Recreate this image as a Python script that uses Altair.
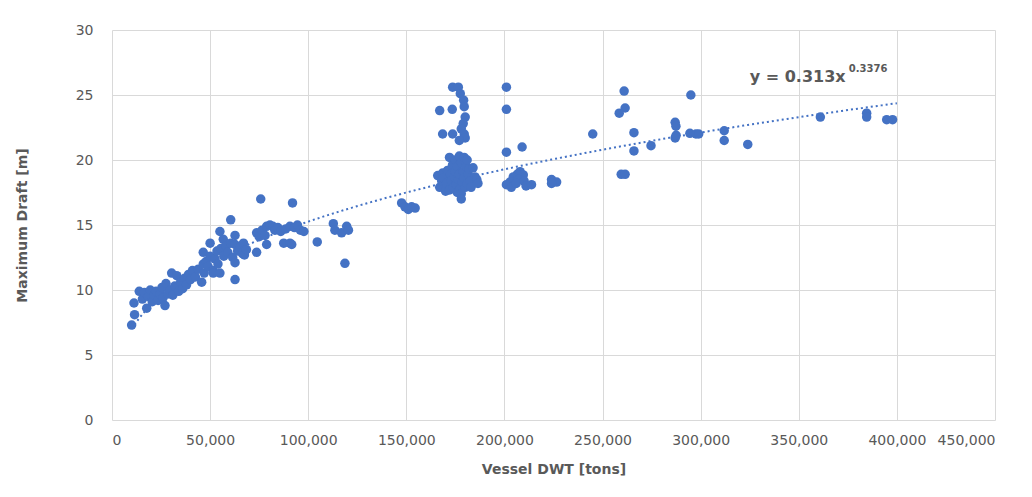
import altair as alt
import pandas as pd

# Vessel deadweight tonnage [tons] and maximum draft [m]
dwt = [
    10000, 11500, 11200, 13900, 15500, 16500, 17700, 18500, 19500, 20500,
    21500, 22500, 23500, 24500, 25500, 26000, 27000, 27500, 28500, 29500,
    30400, 31000, 32000, 33000, 34000, 35000, 36000, 37000, 38000, 39000,
    40000, 41000, 42500, 44000, 45700, 46500, 47000,
    46500, 48000, 49000, 50000, 50000, 51500, 51600, 52500, 53500, 54000,
    55000, 55000, 55500, 56700, 57000, 58000, 59000, 60500, 60500, 61500,
    62700, 62700, 62700, 62700, 64000, 65500, 66500, 67000, 67500, 68500,
    73700, 73700, 75000, 75800, 76500, 78000, 78800, 78800, 80500, 82000,
    83000, 84500, 86000, 87500, 88500, 90700, 90700, 91600, 92000, 93000,
    94500, 96000, 97800,
    104600, 112800, 113600, 117000, 118700, 119600, 120500,
    147600, 149300, 151000, 152700, 154500,
    173600, 176500, 177500, 179200, 179500, 167000, 173400, 180000, 179000,
    178000, 168500, 173600, 179500, 180000, 177000,
    166000, 167000, 168000, 168500, 169000, 170000, 170500, 171000, 172000,
    172000, 172500, 173000, 173500, 174000, 174500, 175000, 175000, 175500,
    176000, 176000, 176500, 177000, 177000, 177500, 178000, 178000, 178000,
    178500, 179000, 179500, 179500, 180000, 180500, 181000, 181000, 181500,
    182000, 182500, 183000, 184000, 185000, 185900, 186500,
    201000, 201000, 201000, 209000, 208000, 209600, 206500, 204500, 207000,
    202800, 201000, 203500, 206000, 210000, 211000, 213800, 224000, 226600,
    224000,
    245000, 261000, 261500, 258500, 266000, 266000, 274700, 259500, 261500,
    295000, 287000, 287400, 287000, 287500, 294500, 297600, 299000, 312000,
    312000, 324000,
    361000, 384600, 384600, 394800, 397800,
]
draft = [
    7.3, 8.1, 9.0, 9.9, 9.3, 9.8, 8.6, 9.5, 10.0, 9.1,
    9.6, 9.9, 9.2, 9.7, 10.2, 9.4, 8.8, 10.5, 9.7, 10.0,
    11.3, 9.6, 10.3, 11.1, 9.9, 10.6, 10.1, 10.9, 10.4, 11.2,
    10.8, 11.5, 11.0, 11.6, 10.6, 12.0, 11.3,
    12.9, 12.2, 11.8, 12.6, 13.6, 11.5, 11.3, 12.4, 13.0, 12.0,
    14.5, 11.3, 13.2, 13.9, 12.6, 13.4, 12.9, 15.4, 13.6, 12.5,
    14.2, 13.5, 12.1, 10.8, 13.0, 13.3, 12.8, 13.6, 12.7, 13.1,
    12.9, 14.4, 14.1, 17.0, 14.6, 14.2, 13.5, 14.9, 15.0, 14.9,
    14.6, 14.8, 14.5, 13.6, 14.7, 13.6, 14.9, 13.5, 16.7, 14.8,
    15.0, 14.6, 14.5,
    13.7, 15.1, 14.6, 14.4, 12.05, 14.9, 14.6,
    16.7, 16.4, 16.2, 16.4, 16.3,
    25.6, 25.6, 25.1, 24.6, 24.1, 23.8, 23.9, 23.3, 22.8,
    22.4, 22.0, 22.0, 22.0, 21.7, 21.5,
    18.8, 17.9, 18.4, 19.0, 18.6, 17.6, 18.2, 19.2, 17.7,
    20.2, 18.9, 18.4, 19.6, 17.9, 18.7, 20.0, 19.1, 18.1,
    17.5, 19.5, 18.5, 20.3, 18.9, 17.8, 17.4, 17.0, 19.8,
    18.3, 19.1, 20.2, 18.6, 17.9, 19.5, 18.2, 20.0, 18.9,
    19.3, 18.4, 17.9, 19.4, 18.7, 18.5, 18.2,
    25.6, 23.9, 20.6, 21.0, 19.1, 18.85, 18.9, 18.7, 18.5,
    18.3, 18.1, 17.9, 18.2, 18.4, 18.0, 18.1, 18.5, 18.3,
    18.2,
    22.0, 25.3, 24.0, 23.6, 22.1, 20.7, 21.1, 18.9, 18.9,
    25.0, 22.9, 22.6, 21.7, 21.9, 22.05, 22.0, 22.0, 22.25,
    21.5, 21.2,
    23.3, 23.6, 23.3, 23.1, 23.1,
]

# Power trendline shown on the chart: y = 0.313 x^0.3376
trend_a = 0.313
trend_b = 0.3376
trend_start = 10000
trend_stop = 400000

x_ticks = [0, 50000, 100000, 150000, 200000, 250000, 300000, 350000, 400000, 450000]
y_ticks = [0, 5, 10, 15, 20, 25, 30]

FONT = "DejaVu Sans"
BLUE = "#4472C4"
GREY = "#595959"

df = pd.DataFrame({"dwt": dwt, "draft": draft})

xscale = alt.Scale(domain=[0, 450000], nice=False)
yscale = alt.Scale(domain=[0, 30], nice=False)

xaxis = alt.Axis(
    values=x_ticks, format=",d", title="Vessel DWT [tons]",
    grid=True, gridColor="#d9d9d9", domain=False, ticks=False,
    labelPadding=13, labelFontSize=14, labelColor=GREY, labelFont=FONT,
    titleFont=FONT, titleFontSize=14, titleFontWeight="bold", titleColor=GREY,
    titleY=49, titleBaseline="middle",
)
yaxis = alt.Axis(
    values=y_ticks, title="Maximum Draft [m]",
    grid=True, gridColor="#d9d9d9", domain=False, ticks=False,
    labelPadding=19, labelFontSize=14, labelColor=GREY, labelFont=FONT,
    titleFont=FONT, titleFontSize=14, titleFontWeight="bold", titleColor=GREY,
    titleX=-90, titleY=195, titleAngle=270, titleBaseline="middle", titleAlign="center",
)

points = alt.Chart(df).mark_circle(size=90, color=BLUE, opacity=1).encode(
    x=alt.X("dwt:Q", scale=xscale, axis=xaxis),
    y=alt.Y("draft:Q", scale=yscale, axis=yaxis),
)

trend = (
    alt.Chart(alt.sequence(trend_start, trend_stop + 1, 2000, as_="dwt"))
    .transform_calculate(draft=f"{trend_a} * pow(datum.dwt, {trend_b})")
    .mark_line(color=BLUE, strokeDash=[2, 3], strokeWidth=2)
    .encode(x=alt.X("dwt:Q", scale=xscale), y=alt.Y("draft:Q", scale=yscale))
)

eq_main = pd.DataFrame({"dwt": [325000], "draft": [26.0], "t": ["y = 0.313x"]})
eq_sup = pd.DataFrame({"dwt": [375500], "draft": [26.75], "t": ["0.3376"]})

label_main = alt.Chart(eq_main).mark_text(
    align="left", baseline="alphabetic", font=FONT, fontSize=16,
    fontWeight="bold", color=GREY,
).encode(x=alt.X("dwt:Q", scale=xscale), y=alt.Y("draft:Q", scale=yscale), text="t:N")

label_sup = alt.Chart(eq_sup).mark_text(
    align="left", baseline="alphabetic", font=FONT, fontSize=10,
    fontWeight="bold", color=GREY,
).encode(x=alt.X("dwt:Q", scale=xscale), y=alt.Y("draft:Q", scale=yscale), text="t:N")

chart = (
    alt.layer(trend, points, label_main, label_sup)
    .properties(
        width=883, height=390,
        padding={"left": 104, "top": 22, "right": 20, "bottom": 60},
        autosize=alt.AutoSizeParams(type="none"),
    )
    .configure_view(stroke=None)
)

chart.save("out.html", embed_options={"renderer": "svg", "actions": False})
